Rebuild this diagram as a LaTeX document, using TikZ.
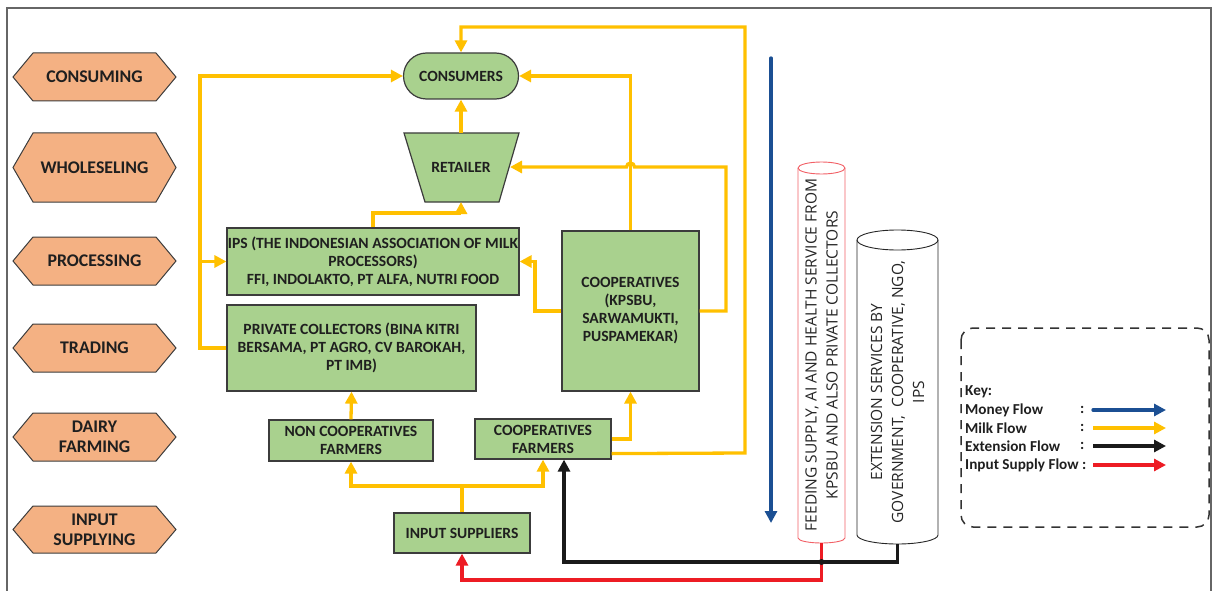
\documentclass[tikz,border=0pt]{standalone}
\usepackage{fontspec}
\setmainfont{Carlito}
\newfontfamily\cylfont{Open Sans}
\usetikzlibrary{arrows.meta,calc}
\definecolor{gfill}{RGB}{169,209,142}
\definecolor{ofill}{RGB}{244,177,131}
\definecolor{milkc}{RGB}{255,192,0}
\definecolor{moneyc}{RGB}{27,79,147}
\definecolor{inputc}{RGB}{237,28,36}
\definecolor{extc}{RGB}{26,26,26}
\definecolor{edgec}{RGB}{60,60,60}
\newcommand\hexa[4]{%
  \draw[hexshape] (13,#2) -- (33,#2-#3) -- (156,#2-#3) -- (176,#2) -- (156,#2+#3) -- (33,#2+#3) -- cycle;
  \node[hextext] (#1) at (94.5,#2) {#4};}
\begin{document}
\begin{tikzpicture}[x=1pt,y=-1pt,
  hexshape/.style={draw=edgec, line width=1pt, fill=ofill},
  hextext/.style={align=center, inner sep=0pt, text=black!88, font=\bfseries\fontsize{17.8}{20}\selectfont},
  box/.style={draw=edgec, line width=1.2pt, fill=gfill, inner sep=0pt, align=center, text=black!88, font=\bfseries\fontsize{15.6}{18}\selectfont},
  tip/.style={-{Triangle[length=12pt,width=12pt]}},
  milk/.style={draw=milkc, line width=3.3pt},
  money/.style={draw=moneyc, line width=3.3pt, line cap=round},
  extf/.style={draw=extc, line width=3.3pt},
  inpf/.style={draw=inputc, line width=3.3pt},
  cyltext/.style={align=center, inner sep=0pt, text=black!85, font=\cylfont\fontsize{15.5}{21}\selectfont},
  keytext/.style={anchor=west, inner sep=0pt, text=black!88, font=\bfseries\fontsize{15.2}{18}\selectfont}]
\useasboundingbox (0,0) rectangle (1212,591);
% frame
\draw[black!60, line width=1.5pt] (7,591) -- (7,8) -- (1211,8) -- (1211,591);
% stages
\hexa{consuming}{77}{24}{CONSUMING}
\hexa{wholeseling}{167.5}{34.5}{WHOLESELING}
\hexa{processing}{261}{24}{PROCESSING}
\hexa{trading}{348}{24}{TRADING}
\hexa{dairy}{437}{24}{DAIRY\\FARMING}
\hexa{inputs}{529.5}{23.5}{INPUT\\SUPPLYING}
% actors
\node[box, rounded corners=23pt, minimum width=115pt, minimum height=46pt] (cons) at (461,76) {CONSUMERS};
\draw[draw=edgec, line width=1.2pt, fill=gfill] (404,133) -- (519,133) -- (499,202) -- (425,202) -- cycle;
\node[box, draw=none, fill=none] (retailer) at (461,167) {RETAILER};
\coordinate (rt) at (461,133);
\coordinate (rb) at (461,202);
\coordinate (re) at (510,167);
\node[box, minimum width=292pt, minimum height=67pt] (ips) at (373,261.5) {IPS (THE INDONESIAN ASSOCIATION OF MILK\\PROCESSORS)\\FFI, INDOLAKTO, PT ALFA, NUTRI FOOD};
\node[box, minimum width=137pt, minimum height=160pt] (coop) at (630.5,311) {COOPERATIVES\\(KPSBU,\\SARWAMUKTI,\\PUSPAMEKAR)};
\node[box, minimum width=249pt, minimum height=86pt] (priv) at (351.5,348) {PRIVATE COLLECTORS (BINA KITRI\\BERSAMA, PT AGRO, CV BAROKAH,\\PT IMB)};
\node[box, minimum width=164pt, minimum height=41pt] (noncoop) at (351,440.5) {NON COOPERATIVES\\FARMERS};
\node[box, minimum width=136pt, minimum height=40pt] (coopf) at (543,439) {COOPERATIVES\\FARMERS};
\node[box, minimum width=136pt, minimum height=40pt] (input) at (462,533) {INPUT SUPPLIERS};
% milk flows
\draw[milk, tip] (priv.west) -- (200,348) |- (cons.west);
\draw[milk, tip] (200,261.5) -- (ips.west);
\draw[milk, tip] (ips.north) -- (373,213) -| (rb);
\draw[milk, tip] (rt) -- (cons.south);
\draw[milk, tip] (coop.north) |- (cons.east);
\draw[milk, tip] (coop.east) -- (726,311) -- (726,167) -- (634.5,167)
   arc[start angle=0, end angle=180, radius=4pt] -- (re);
\draw[milk, tip] (coop.west) -- (535,311) |- (ips.east);
\draw[milk, tip] (noncoop.north) -- (priv.south);
\draw[milk, tip] (coopf.east) -| (coop.south);
\draw[milk, tip] ($(coopf.south east)+(0,-6)$) -- (745,453) -- (745,27) -| (cons.north);
\draw[milk, tip] (input.north) -- (462,486) -| (noncoop.south);
\draw[milk, tip] (input.north) -- (462,486) -| (coopf.south);
% money flow
\coordinate (m1) at (771,58);
\coordinate (m2) at (771,523);
\draw[money, tip] (m1) -- (m2);
% cylinders
\filldraw[draw=inputc!70, fill=white, line width=0.9pt] (798,168) -- (798,538)
  arc[start angle=180, end angle=360, x radius=23.5pt, y radius=5pt] -- (845,168)
  arc[start angle=0, end angle=180, x radius=23.5pt, y radius=6pt] -- cycle;
\draw[draw=inputc!70, line width=0.9pt] (798,168) arc[start angle=180, end angle=360, x radius=23.5pt, y radius=6pt];
\node[cyltext, rotate=90] (feed) at (821.5,355) {FEEDING SUPPLY, AI AND HEALTH SERVICE FROM\\KPSBU AND ALSO PRIVATE COLLECTORS};
\coordinate (feedb) at (821.5,543);
\filldraw[draw=black!85, fill=white, line width=0.9pt] (857,240) -- (857,535)
  arc[start angle=180, end angle=360, x radius=40.5pt, y radius=9pt] -- (938,240)
  arc[start angle=0, end angle=180, x radius=40.5pt, y radius=10pt] -- cycle;
\draw[draw=black!85, line width=0.9pt] (857,240) arc[start angle=180, end angle=360, x radius=40.5pt, y radius=10pt];
\node[cyltext, rotate=90] (ext) at (897.5,392) {EXTENSION SERVICES BY\\GOVERNMENT,\ \ COOPERATIVE, NGO,\\IPS};
\coordinate (extb) at (897.5,544);
% extension and input flows
\draw[inpf, tip] (feedb) -- (821.5,580) -| (input.south);
\draw[extf, tip] (extb) -- (897.5,562) -| ($(coopf.south)+(21,0)$);
\fill[extc] (821.5,562) circle[radius=3pt];
% legend
\draw[black!80, line width=1.5pt, dash pattern=on 9pt off 7pt, rounded corners=12pt] (961,328) rectangle (1209,527);
\node[keytext] (key) at (965,392) {Key:};
\node[keytext] (kmoney) at (965,410) {Money Flow};
\node[keytext] (kmilk) at (965,428) {Milk Flow};
\node[keytext] (kext) at (965,446) {Extension Flow};
\node[keytext] (kinp) at (965,465) {Input Supply Flow :};
\node[keytext] (c1) at (1080,410) {:};
\node[keytext] (c2) at (1080,428) {:};
\node[keytext] (c3) at (1080,446) {:};
\coordinate (a1) at (1093,410); \coordinate (b1) at (1166,410);
\coordinate (a2) at (1093,428); \coordinate (b2) at (1166,428);
\coordinate (a3) at (1093,446); \coordinate (b3) at (1166,446);
\coordinate (a4) at (1093,465); \coordinate (b4) at (1166,465);
\draw[money, tip] (a1) -- (b1);
\draw[milk, tip] (a2) -- (b2);
\draw[extf, tip] (a3) -- (b3);
\draw[inpf, tip] (a4) -- (b4);
\end{tikzpicture}
\end{document}
